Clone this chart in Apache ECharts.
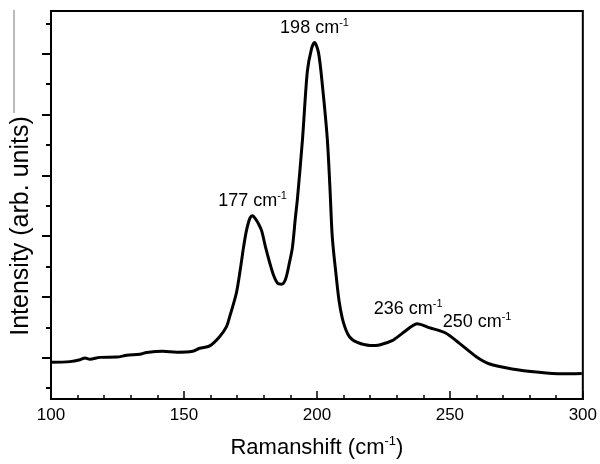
<!DOCTYPE html>
<html>
<head>
<meta charset="utf-8">
<script src="https://cdn.jsdelivr.net/npm/echarts@6/dist/echarts.min.js"></script>
<style>
  html, body { margin: 0; padding: 0; background: #fff; }
  #main { width: 600px; height: 464px; }
</style>
</head>
<body>
<div id="main"></div>
<script>
// Raman shift (cm-1) and intensity (arb. units)
var shift = [100, 107.1, 110.9, 112.8, 114.6, 118.4, 124.8, 128.5, 133.4, 136.0,
  142.0, 147.3, 153.3, 155.9, 159.7, 163.4, 166.0, 167.2, 168.3, 169.8,
  171.3, 172.4, 173.5, 174.7, 175.8, 176.9, 178.0, 179.2, 180.7, 182.2,
  183.7, 185.2, 186.7, 188.2, 189.7, 190.8, 191.9, 192.7, 194.6, 196.4,
  197.9, 199.1, 200.6, 202.1, 203.9, 204.9, 205.8, 207.3, 208.4, 209.9,
  212.2, 215.2, 220.1, 223.5, 228.3, 232.1, 235.8, 237.7, 242.2, 248.2,
  253.5, 259.8, 264.7, 273.4, 283.5, 292.1, 299.6];
var intensity = [85, 87, 93, 99, 95, 101, 102, 108, 111, 117,
  121, 118, 121, 131, 139, 169, 202, 235, 267, 316,
  397, 463, 518, 557, 567, 557, 541, 518, 463, 414,
  371, 345, 342, 358, 414, 463, 560, 625, 821, 1042,
  1114, 1137, 1104, 993, 821, 660, 495, 365, 283, 218,
  169, 150, 140, 142, 156, 180, 204, 212, 199, 182,
  148, 104, 80, 63, 52, 47, 48];

var xTicks = [100, 150, 200, 250, 300];
var yMajorTicks = [100, 300, 500, 700, 900, 1100];
var yMinorTicks = [0, 200, 400, 600, 800, 1000, 1200];

// peak annotations: [position cm-1, intensity at label anchor, label]
var peaks = [
  [175.8, 567, '177'],
  [199.1, 1137, '198'],
  [237.7, 212, '236'],
  [248.2, 182, '250']
];
var peakOffsets = [[0, 0], [0, 0], [-9, 0], [32, 4]];

var FONT = 'Liberation Sans, Arial, sans-serif';

var chartDom = document.getElementById('main');
var myChart = echarts.init(chartDom);
var option;

var supRich = {
  a: { fontFamily: FONT, fontSize: 18, color: '#000', lineHeight: 20 },
  s: { fontFamily: FONT, fontSize: 11, color: '#000', verticalAlign: 'top', lineHeight: 11 }
};

option = {
  animation: false,
  backgroundColor: '#fff',
  grid: {
    left: 51,
    right: 17,
    top: 11,
    bottom: 61,
    show: true,
    borderColor: '#000',
    borderWidth: 2
  },
  graphic: [
    {
      type: 'line',
      shape: { x1: 14, y1: 10, x2: 14, y2: 113 },
      style: { stroke: '#777', lineWidth: 1 }
    }
  ],
  xAxis: {
    type: 'value',
    min: 100,
    max: 300,
    interval: 50,
    name: '{a|Ramanshift (cm}{s|-1}{a|)}',
    nameLocation: 'middle',
    nameGap: 36,
    nameTextStyle: {
      rich: {
        a: { fontFamily: FONT, fontSize: 22, color: '#000', lineHeight: 26 },
        s: { fontFamily: FONT, fontSize: 13, color: '#000', verticalAlign: 'top', lineHeight: 13 }
      }
    },
    axisLine: { onZero: false, lineStyle: { color: '#000', width: 2 } },
    axisTick: { inside: true, length: 8, lineStyle: { color: '#000', width: 1.5 } },
    minorTick: { show: true, splitNumber: 5, length: 4, lineStyle: { color: '#000', width: 1.5 } },
    axisLabel: {
      fontFamily: FONT,
      fontSize: 17,
      color: '#000',
      margin: 8,
      customValues: xTicks
    },
    splitLine: { show: false }
  },
  yAxis: [
    {
      type: 'value',
      min: -36,
      max: 1241,
      name: 'Intensity (arb. units)',
      nameLocation: 'middle',
      nameGap: 17,
      nameTextStyle: {
        fontFamily: FONT,
        fontSize: 25,
        color: '#000',
        padding: [0, 42, 0, 0]
      },
      axisLine: { onZero: false, lineStyle: { color: '#000', width: 2 } },
      axisTick: { length: 9, customValues: yMajorTicks, lineStyle: { color: '#000', width: 2 } },
      axisLabel: { show: false },
      splitLine: { show: false }
    },
    {
      type: 'value',
      min: -36,
      max: 1241,
      position: 'left',
      offset: 0,
      axisLine: { show: false, onZero: false },
      axisTick: { show: true, length: 5, customValues: yMinorTicks, lineStyle: { color: '#000', width: 2 } },
      axisLabel: { show: false },
      splitLine: { show: false }
    }
  ],
  series: [
    {
      type: 'line',
      data: shift.map(function (x, i) { return [x, intensity[i]]; }),
      showSymbol: false,
      smooth: 0.3,
      lineStyle: { color: '#000', width: 3 },
      markPoint: {
        symbol: 'circle',
        symbolSize: 0,
        itemStyle: { color: 'rgba(0,0,0,0)' },
        label: {
          show: true,
          position: 'top',
          distance: 5,
          rich: supRich
        },
        data: peaks.map(function (p, i) {
          return {
            coord: [p[0], p[1]],
            label: {
              offset: peakOffsets[i],
              formatter: '{a|' + p[2] + ' cm}{s|-1}'
            }
          };
        })
      }
    }
  ]
};

option && myChart.setOption(option);
</script>
</body>
</html>
